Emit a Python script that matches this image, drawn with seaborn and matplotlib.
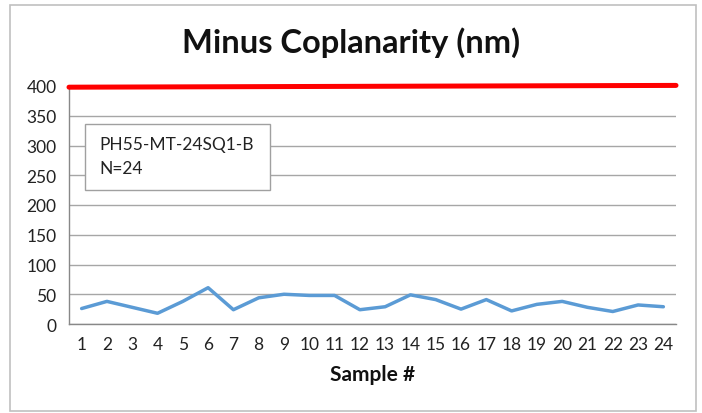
import numpy as np
import pandas as pd
import matplotlib
matplotlib.use("Agg")
from matplotlib import pyplot as plt
from matplotlib.patches import Rectangle
import seaborn as sns

# data
samples = list(range(1, 25))
minus_coplanarity = [26, 38, 28, 18, 38, 61, 24, 44, 50, 48, 48, 24,
                     29, 49, 41, 25, 41, 22, 33, 38, 28, 21, 32, 29]
# red limit line runs across the whole plot width, rising slightly
limit_ends = [398, 401]
y_ticks = [0, 50, 100, 150, 200, 250, 300, 350, 400]
box_lines = ["PH55-MT-24SQ1-B", "N=24"]

df = pd.DataFrame({"sample": samples, "value": minus_coplanarity})

sns.set_style("white")
plt.rcParams["font.family"] = ["Lato", "DejaVu Sans"]

fig = plt.figure(figsize=(7.02, 4.14), dpi=100)
ax = fig.add_axes([69 / 702, 1 - 325 / 414, (676 - 69) / 702, (325 - 87) / 414])

xlim = (0.5, len(samples) + 0.5)
lim_df = pd.DataFrame({"x": list(xlim), "limit": limit_ends})
sns.lineplot(data=lim_df, x="x", y="limit", ax=ax, color="#FF0000", linewidth=3.6,
             clip_on=False, zorder=4)
sns.lineplot(data=df, x="sample", y="value", ax=ax, color="#5B9BD5", linewidth=2.5,
             zorder=3)

ax.set_xlim(*xlim)
ax.set_ylim(0, 400)
ax.set_yticks(y_ticks)
ax.set_xticks(samples)
ax.set_xticks(np.arange(0.5, 25, 1), minor=True)
ax.tick_params(axis="x", which="major", length=0, labelsize=12.5, pad=9, colors="#222222")
ax.tick_params(axis="x", which="minor", length=5, width=1, color="#888888", direction="out")
ax.tick_params(axis="y", which="major", length=6, width=1, color="#888888", direction="out",
               labelsize=12.5, pad=3, labelcolor="#222222")
ax.yaxis.grid(True, color="#A6A6A6", linewidth=1)
ax.set_axisbelow(True)
for side in ["top", "right"]:
    ax.spines[side].set_visible(False)
for side in ["left", "bottom"]:
    ax.spines[side].set_color("#888888")
    ax.spines[side].set_linewidth(1)

ax.set_xlabel("Sample #", fontsize=15, fontweight="bold", labelpad=8, color="#111111")
ax.set_ylabel("")
fig.text(351 / 702, 1 - 43 / 414, "Minus Coplanarity (nm)", ha="center", va="center",
         fontsize=23.5, fontweight="bold", color="#111111")

# annotation box
fig.patches.append(Rectangle((85 / 702, 1 - 191 / 414), (270 - 85) / 702, (191 - 125) / 414,
                             transform=fig.transFigure, facecolor="white",
                             edgecolor="#A0A0A0", linewidth=1, zorder=5))
fig.text(99 / 702, 1 - 145 / 414, box_lines[0], ha="left", va="center", fontsize=12.5,
         color="#222222", zorder=6)
fig.text(99 / 702, 1 - 169 / 414, box_lines[1], ha="left", va="center", fontsize=12.5,
         color="#222222", zorder=6)

# chart outer border
fig.patches.append(Rectangle((10 / 702, 1 - 412 / 414), (696 - 10) / 702, (412 - 6) / 414,
                             transform=fig.transFigure, facecolor="none",
                             edgecolor="#C0C0C0", linewidth=1.2))

fig.savefig("out.png", dpi=100)
